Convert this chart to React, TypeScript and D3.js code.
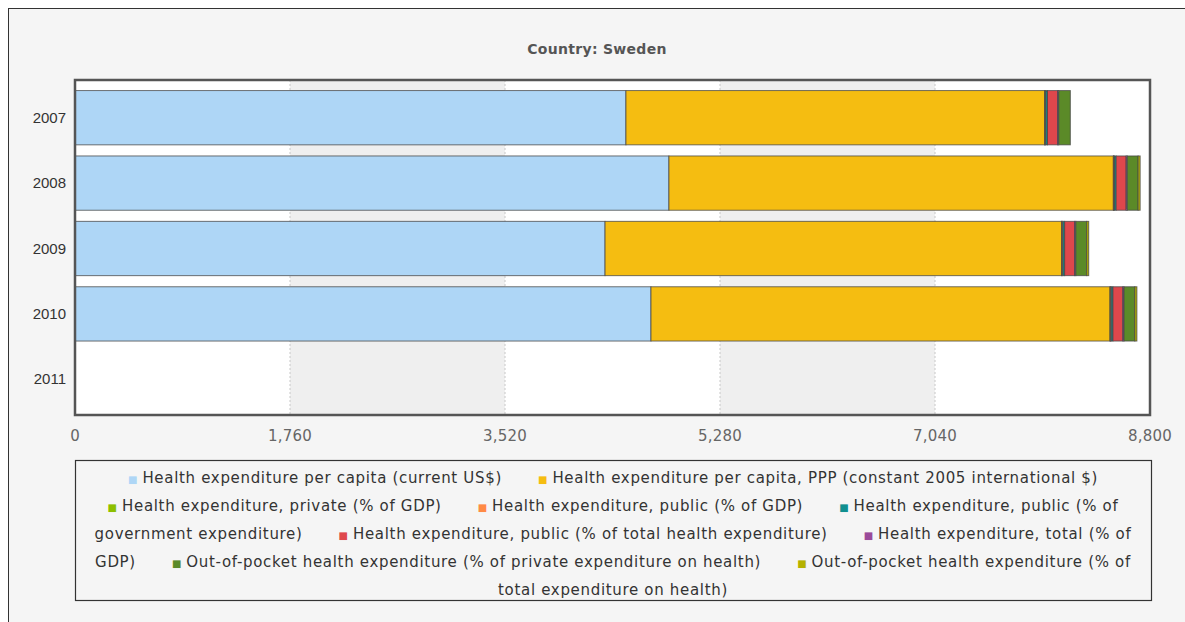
import React from 'react';
import * as d3 from 'd3';

const years = ['2007', '2008', '2009', '2010', '2011'];

const seriesNames = [
  'Health expenditure per capita (current US$)',
  'Health expenditure per capita, PPP (constant 2005 international $)',
  'Health expenditure, private (% of GDP)',
  'Health expenditure, public (% of GDP)',
  'Health expenditure, public (% of government expenditure)',
  'Health expenditure, public (% of total health expenditure)',
  'Health expenditure, total (% of GDP)',
  'Out-of-pocket health expenditure (% of private expenditure on health)',
  'Out-of-pocket health expenditure (% of total expenditure on health)',
];

const seriesColors = [
  '#aed6f6', '#f5bd11', '#8dbf00', '#ff8a45', '#108f8f',
  '#df474c', '#9a4a9a', '#5b8a28', '#b5b100',
];

const perCapitaUSD = [4510, 4862, 4339, 4715, null];
const perCapitaPPP = [3428, 3638, 3738, 3758, null];
const privatePctGDP = [1.6, 1.6, 1.7, 1.8, null];
const publicPctGDP = [7.2, 7.5, 8.3, 7.8, null];
const publicPctGov = [14.1, 14.0, 14.4, 14.1, null];
const publicPctTotal = [83.0, 81.5, 81.5, 81.0, null];
const totalPctGDP = [8.9, 9.2, 10.0, 9.6, null];
const oopPctPrivate = [95.0, 89.0, 89.0, 88.5, null];
const oopPctTotal = [null, 16.5, 16.5, 17.0, null];

const seriesValues = [
  perCapitaUSD, perCapitaPPP, privatePctGDP, publicPctGDP, publicPctGov,
  publicPctTotal, totalPctGDP, oopPctPrivate, oopPctTotal,
];

const xTicks = [0, 1760, 3520, 5280, 7040, 8800];

// legend rows as wrapped in the original: [seriesIndex or -1 for continuation, text]
const legendRows: [number, string][][] = [
  [[0, 'Health expenditure per capita (current US$)'], [1, 'Health expenditure per capita, PPP (constant 2005 international $)']],
  [[2, 'Health expenditure, private (% of GDP)'], [3, 'Health expenditure, public (% of GDP)'], [4, 'Health expenditure, public (% of']],
  [[-1, 'government expenditure)'], [5, 'Health expenditure, public (% of total health expenditure)'], [6, 'Health expenditure, total (% of']],
  [[-1, 'GDP)'], [7, 'Out-of-pocket health expenditure (% of private expenditure on health)'], [8, 'Out-of-pocket health expenditure (% of']],
  [[-1, 'total expenditure on health)']],
];

export default function App() {
  const W = 1185, H = 622;
  const plot = { left: 75, top: 80, right: 1150, bottom: 415 };

  const keys = seriesNames.map((_, i) => 's' + i);
  const table = years.map((y, yi) => {
    const row: any = { year: y };
    seriesValues.forEach((arr, si) => { row['s' + si] = arr[yi] ?? 0; });
    return row;
  });
  const stacked = d3.stack().keys(keys)(table);

  const x = d3.scaleLinear().domain([0, 8800]).range([plot.left, plot.right]);
  const y = d3.scaleBand().domain(years).range([85, 412]).paddingInner(0.17).paddingOuter(0.085);

  const font = '"DejaVu Sans", Verdana, sans-serif';

  return (
    <svg width={W} height={H} style={{ position: 'absolute', left: 0, top: 0 }}>
      <rect x={8.5} y={8.5} width={1300} height={800} fill="#f5f5f5" stroke="#333" strokeWidth={1} />
      <text x={597} y={54} textAnchor="middle" fontFamily={font} fontWeight="bold" fontSize={14} letterSpacing={0.3} fill="#555">Country: Sweden</text>

      <rect x={plot.left} y={plot.top} width={plot.right - plot.left} height={plot.bottom - plot.top} fill="#fff" />
      {[[1760, 3520], [5280, 7040]].map(([a, b], i) => (
        <rect key={'band' + i} x={x(a)} y={plot.top} width={x(b) - x(a)} height={plot.bottom - plot.top} fill="#efefef" />
      ))}
      {xTicks.slice(1, -1).map((t) => (
        <line key={'g' + t} x1={x(t)} x2={x(t)} y1={plot.top} y2={plot.bottom} stroke="#c8c8c8" strokeDasharray="2,2" strokeWidth={1} />
      ))}

      {stacked.map((layer, si) => (
        <g key={layer.key}>
          {layer.map((d, yi) => {
            const w = x(d[1]) - x(d[0]);
            if (w <= 0) return null;
            return (
              <rect key={yi} x={x(d[0])} y={y(years[yi])} width={w} height={y.bandwidth()}
                fill={seriesColors[si]} stroke="#444" strokeOpacity={0.75} strokeWidth={1} />
            );
          })}
        </g>
      ))}

      <rect x={plot.left} y={plot.top} width={plot.right - plot.left} height={plot.bottom - plot.top} fill="none" stroke="#555" strokeWidth={2.5} />

      {years.map((yr) => (
        <text key={yr} x={66} y={(y(yr) as number) + y.bandwidth() / 2 + 5} textAnchor="end"
          fontFamily='"Liberation Sans", Arial, sans-serif' fontSize={15} fill="#333">{yr}</text>
      ))}
      {xTicks.map((t) => (
        <text key={'t' + t} x={x(t)} y={441} textAnchor="middle" fontFamily={font} fontSize={15} letterSpacing={0.2} fill="#666">{d3.format(',')(t)}</text>
      ))}

      <rect x={75.5} y={460.5} width={1076} height={140} fill="#f5f5f5" stroke="#333" strokeWidth={1.2} />
      {legendRows.map((row, ri) => (
        <text key={'lr' + ri} x={613} y={483 + ri * 28} textAnchor="middle" fontFamily={font} fontSize={15} letterSpacing={0.68} fill="#333">
          {row.map(([si, txt], ii) => {
            const parts = [];
            const gap = ii === 0 ? 0 : 36;
            if (si >= 0) {
              parts.push(<tspan key={'m' + ii} dx={gap} fontSize={10} letterSpacing={0} fill={seriesColors[si]}>■</tspan>);
              parts.push(<tspan key={'t' + ii} dx={5}>{txt}</tspan>);
            } else {
              parts.push(<tspan key={'t' + ii} dx={gap}>{txt}</tspan>);
            }
            return parts;
          })}
        </text>
      ))}
    </svg>
  );
}
